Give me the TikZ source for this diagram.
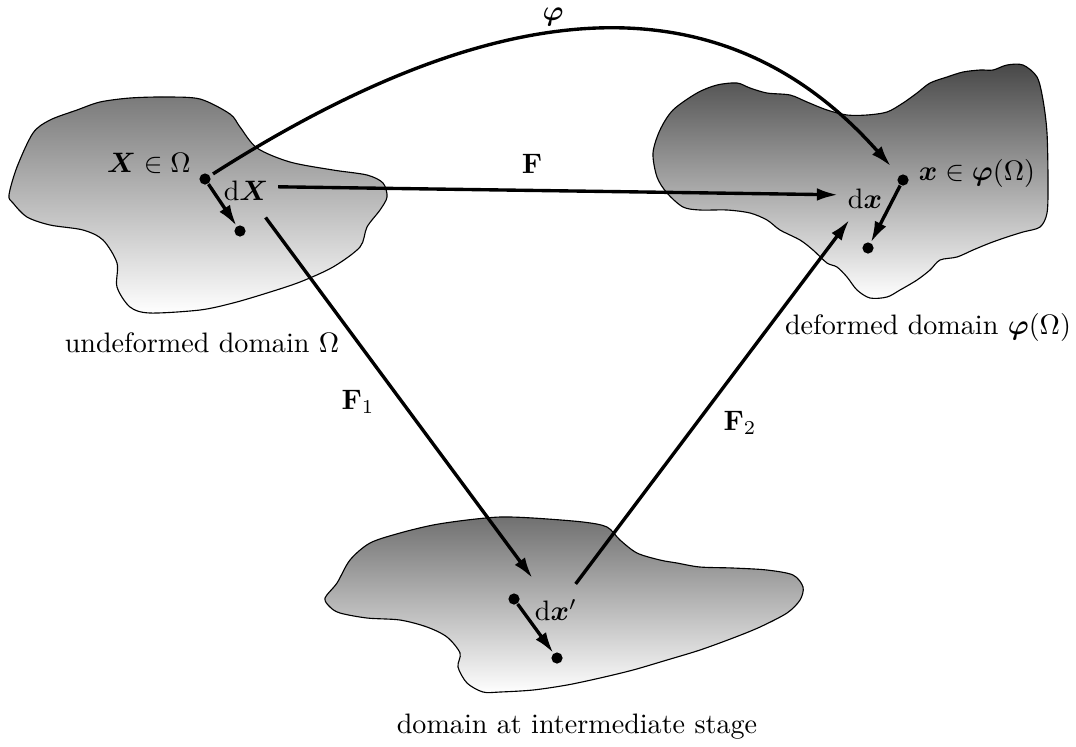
\documentclass[tikz,border=0pt]{standalone}
\usepackage{amsmath}
\usetikzlibrary{arrows.meta}
\begin{document}
\begin{tikzpicture}[x=0.0125cm,y=-0.0125cm,
  blob/.style={draw=black, thin},
  pt/.style={circle, fill=black, inner sep=0pt, minimum size=1.4mm},
  map/.style={line width=1.2pt, -{Latex[length=7.5pt,width=4.5pt]}}]
  \useasboundingbox (0,0) rectangle (1076,746);

  % Domains
  \shade[blob, top color=black!52, bottom color=white] plot[smooth cycle] coordinates {
    (9,195) (17,167) (33,133) (50,120) (77,110) (100,102) (130,98) (165,97) (200,99)
    (230,114) (240,127) (257,148) (290,162) (333,170) (367,175) (383,183) (387,197)
    (380,210) (367,227) (360,247) (333,267) (300,282) (267,293) (233,303) (200,310)
    (150,313) (130,307) (117,287) (117,263) (103,240) (83,230) (50,225) (27,217) (13,203)};
  \shade[blob, top color=black!72, bottom color=white] plot[smooth cycle] coordinates {
    (653,153) (660,130) (673,110) (697,93) (717,85) (737,83) (750,88) (767,93) (790,95)
    (807,102) (827,110) (847,115) (867,115) (887,112) (903,103) (917,93) (930,83)
    (947,77) (963,72) (980,70) (993,70) (1007,65) (1023,65) (1037,77) (1043,100)
    (1047,133) (1048,183) (1047,213) (1040,227) (1023,232) (1007,237) (990,243)
    (973,250) (957,257) (940,260) (930,270) (917,280) (900,290) (887,297) (870,298)
    (857,290) (847,277) (837,267) (827,263) (813,250) (800,240) (780,230) (767,220)
    (750,213) (727,210) (700,210) (683,207) (667,193) (657,177)};
  \shade[blob, top color=black!56, bottom color=white] plot[smooth cycle] coordinates {
    (325,598) (337,583) (350,560) (370,543) (400,533) (433,525) (467,520) (500,517)
    (533,518) (583,522) (607,527) (620,540) (637,553) (660,560) (677,563) (700,567)
    (733,568) (767,570) (793,575) (803,587) (800,600) (787,613) (760,627) (733,638)
    (700,650) (667,660) (633,670) (600,678) (567,685) (533,690) (500,692) (483,692)
    (467,683) (458,667) (460,653) (447,637) (427,627) (400,620) (367,618) (340,613)
    (330,607)};

  % Domain names
  \node (undef) at (202,343) {undeformed domain $\Omega$};
  \node (def) at (928,327) {deformed domain $\boldsymbol{\varphi}(\Omega)$};
  \node (inter) at (577,727) {domain at intermediate stage};

  % Material points
  \node[pt] (X) at (205,179) {};
  \node[pt] (Xe) at (240,231) {};
  \node[pt] (x) at (903,180) {};
  \node[pt] (xe) at (868,248) {};
  \node[pt] (xi) at (514,599) {};
  \node[pt] (xie) at (557,658) {};

  % Point labels
  \node (XinO) at (149,163) {$\boldsymbol{X}\in\Omega$};
  \node (dX) at (246,191) {$\mathrm{d}\boldsymbol{X}$};
  \node (xinp) at (977,173) {$\boldsymbol{x}\in\boldsymbol{\varphi}(\Omega)$};
  \node (dx) at (865,199) {$\mathrm{d}\boldsymbol{x}$};
  \node (dxi) at (556,610) {$\mathrm{d}\boldsymbol{x}'$};

  % Maps
  \draw[map, shorten <=1.2pt, shorten >=4.3pt] (X) .. controls (506,-13) and (725,-21) .. (x);
  \node (phi) at (553,17) {$\boldsymbol{\varphi}$};
  \draw[map] ([yshift=1.5pt]dX.east) -- ([yshift=1.5pt]dx.west);
  \node (F) at (532,164) {$\mathbf{F}$};
  \draw[map, shorten <=3pt, shorten >=5pt] (dX) -- (dxi);
  \node (F1) at (358,402) {$\mathbf{F}_1$};
  \draw[map, shorten <=2.5pt, shorten >=0.5pt] (dxi) -- (dx);
  \node (F2) at (740,423) {$\mathbf{F}_2$};

  % Line elements
  \draw[map] (X) -- (Xe);
  \draw[map] (x) -- (xe);
  \draw[map] (xi) -- (xie);

\end{tikzpicture}
\end{document}
